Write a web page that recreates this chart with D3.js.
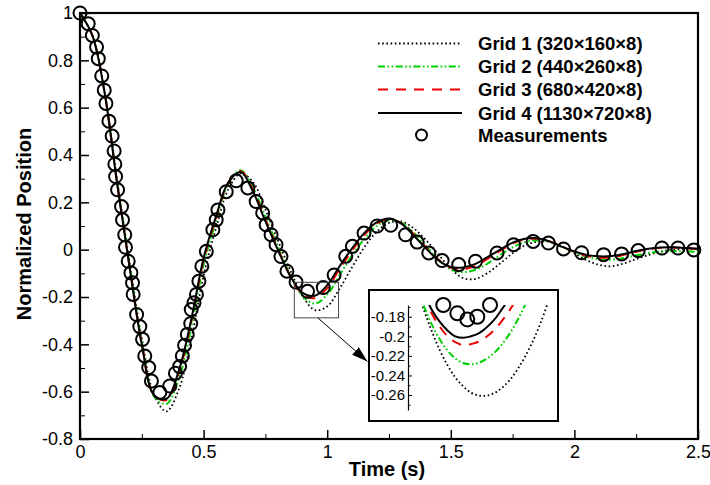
<!DOCTYPE html>
<html>
<head>
<meta charset="utf-8">
<script src="https://cdn.jsdelivr.net/npm/d3@7"></script>
<style>
  html, body { margin: 0; padding: 0; background: #fff; }
  svg text { font-family: "Liberation Sans", Arial, sans-serif; fill: #000; }
</style>
</head>
<body>
<div id="chart"></div>
<script>
// sample times for the simulated curves (s)
const simTime = [0.00, 0.05, 0.10, 0.15, 0.20, 0.25, 0.30, 0.35, 0.40, 0.45,
  0.50, 0.55, 0.60, 0.65, 0.70, 0.75, 0.80, 0.85, 0.90, 0.95,
  1.00, 1.05, 1.10, 1.15, 1.20, 1.25, 1.30, 1.35, 1.40, 1.45,
  1.50, 1.55, 1.60, 1.65, 1.70, 1.75, 1.80, 1.85, 1.90, 1.95,
  2.00, 2.05, 2.10, 2.15, 2.20, 2.25, 2.30, 2.35, 2.40, 2.45, 2.50];

const grid1 = [1.000, 0.905, 0.665, 0.295, -0.050, -0.375, -0.615, -0.683, -0.590, -0.380,
  -0.110, 0.090, 0.255, 0.322, 0.285, 0.170, 0.040, -0.085, -0.195, -0.255,
  -0.240, -0.165, -0.075, 0.010, 0.075, 0.113, 0.119, 0.090, 0.040, -0.020,
  -0.080, -0.120, -0.123, -0.098, -0.058, -0.015, 0.018, 0.034, 0.033, 0.015,
  -0.015, -0.045, -0.064, -0.070, -0.058, -0.040, -0.022, -0.008, 0.000, 0.002, 0.002];

const grid2 = [1.000, 0.905, 0.662, 0.288, -0.060, -0.390, -0.620, -0.652, -0.545, -0.330,
  -0.065, 0.120, 0.278, 0.336, 0.262, 0.140, 0.015, -0.105, -0.195, -0.228,
  -0.190, -0.108, -0.025, 0.045, 0.100, 0.124, 0.114, 0.072, 0.015, -0.042,
  -0.083, -0.095, -0.085, -0.058, -0.022, 0.010, 0.032, 0.040, 0.033, 0.012,
  -0.012, -0.030, -0.041, -0.042, -0.035, -0.024, -0.014, -0.008, -0.006, -0.007, -0.009];

const grid3 = [1.000, 0.905, 0.660, 0.282, -0.068, -0.398, -0.615, -0.635, -0.520, -0.305,
  -0.045, 0.133, 0.283, 0.331, 0.252, 0.128, 0.005, -0.110, -0.188, -0.205,
  -0.163, -0.082, -0.005, 0.062, 0.110, 0.130, 0.112, 0.066, 0.010, -0.042,
  -0.077, -0.083, -0.068, -0.038, -0.005, 0.026, 0.043, 0.046, 0.035, 0.013,
  -0.009, -0.026, -0.034, -0.032, -0.022, -0.009, 0.002, 0.008, 0.009, 0.006, 0.003];

const grid4 = [1.000, 0.905, 0.660, 0.280, -0.070, -0.400, -0.615, -0.630, -0.510, -0.295,
  -0.035, 0.140, 0.285, 0.328, 0.245, 0.120, 0.000, -0.110, -0.182, -0.195,
  -0.150, -0.070, 0.005, 0.070, 0.115, 0.132, 0.110, 0.060, 0.005, -0.045,
  -0.073, -0.075, -0.060, -0.030, 0.000, 0.030, 0.046, 0.048, 0.035, 0.012,
  -0.008, -0.022, -0.028, -0.027, -0.018, -0.006, 0.004, 0.009, 0.010, 0.007, 0.004];

// measured positions
const measTime = [0.000, 0.033, 0.050, 0.067, 0.074, 0.088, 0.098, 0.105, 0.117, 0.130,
  0.138, 0.141, 0.144, 0.152, 0.168, 0.172, 0.181, 0.184, 0.195, 0.206,
  0.2125, 0.215, 0.229, 0.242, 0.253, 0.262, 0.278, 0.289, 0.323, 0.363,
  0.386, 0.403, 0.414, 0.423, 0.434, 0.448, 0.450, 0.461, 0.471, 0.481,
  0.493, 0.511, 0.5375, 0.551, 0.558, 0.5915, 0.632, 0.679, 0.7125, 0.739,
  0.753, 0.773, 0.793, 0.813, 0.837, 0.874, 0.9205, 0.984, 1.028, 1.075,
  1.102, 1.149, 1.202, 1.257, 1.317, 1.364, 1.411, 1.465, 1.532, 1.600,
  1.687, 1.754, 1.833, 1.895, 1.956, 2.029, 2.118, 2.191, 2.258, 2.354,
  2.419, 2.483];
const measValue = [1.000, 0.955, 0.905, 0.856, 0.807, 0.734, 0.674, 0.618, 0.543, 0.480,
  0.417, 0.361, 0.309, 0.253, 0.182, 0.126, 0.063, 0.010, -0.049, -0.098,
  -0.140, -0.189, -0.274, -0.325, -0.379, -0.449, -0.498, -0.555, -0.603, -0.576,
  -0.522, -0.494, -0.449, -0.404, -0.358, -0.312, -0.253, -0.224, -0.189, -0.133,
  -0.070, -0.007, 0.084, 0.126, 0.168, 0.245, 0.291, 0.261, 0.203, 0.155,
  0.105, 0.063, 0.021, -0.029, -0.091, -0.137, -0.176, -0.160, -0.107, -0.028,
  0.014, 0.070, 0.100, 0.103, 0.063, 0.032, -0.014, -0.046, -0.063, -0.049,
  -0.014, 0.021, 0.035, 0.028, 0.003, -0.013, -0.021, -0.018, -0.004, 0.007,
  0.007, -0.001];

// zoomed inset around the second trough
const insetTime = [0.87, 0.88, 0.89, 0.90, 0.91, 0.92, 0.93, 0.94, 0.95,
  0.96, 0.97, 0.98, 0.99, 1.00, 1.01, 1.02, 1.03, 1.04];
const insetGrid1 = [-0.149, -0.1735, -0.195, -0.214, -0.2295, -0.242, -0.251, -0.2575, -0.2605,
  -0.2607, -0.258, -0.2525, -0.2445, -0.2335, -0.220, -0.204, -0.185, -0.163];
const insetGrid2 = [-0.152, -0.170, -0.188, -0.203, -0.2145, -0.2225, -0.2273, -0.2286, -0.227,
  -0.223, -0.217, -0.208, -0.197, -0.183, -0.167, -0.149, null, null];
const insetGrid3 = [-0.141, -0.160, -0.177, -0.190, -0.200, -0.206, -0.209, -0.208, -0.2055,
  -0.2005, -0.1935, -0.184, -0.173, -0.159, -0.143, null, null, null];
const insetGrid4 = [-0.140, -0.157, -0.173, -0.185, -0.194, -0.200, -0.2015, -0.200, -0.197,
  -0.191, -0.183, -0.172, -0.160, -0.145, null, null, null, null];
const insetMeasTime = [0.9046, 0.9226, 0.9354, 0.9482, 0.9645];
const insetMeasValue = [-0.168, -0.1765, -0.1827, -0.180, -0.168];

const xTicks = [0, 0.5, 1, 1.5, 2, 2.5];
const yTicks = [-0.8, -0.6, -0.4, -0.2, 0, 0.2, 0.4, 0.6, 0.8, 1];
const insetTicks = [-0.26, -0.24, -0.22, -0.2, -0.18];

const seriesNames = ["Grid 1 (320\u00d7160\u00d78)", "Grid 2 (440\u00d7260\u00d78)",
  "Grid 3 (680\u00d7420\u00d78)", "Grid 4 (1130\u00d7720\u00d78)"];

// ---- styles ----
const styles = [
  {color: "#000", width: 1.8, dash: "1.6,2.6"},
  {color: "#00d000", width: 2, dash: "7,2.5,1.6,2.5,1.6,2.5"},
  {color: "#ee0000", width: 2, dash: "10,8"},
  {color: "#000", width: 2, dash: null}
];

const width = 710, height = 485;
const plot = {left: 80, right: 698, top: 13, bottom: 439};

const svg = d3.select("#chart").append("svg")
  .attr("width", width)
  .attr("height", height);

const x = d3.scaleLinear().domain([0, 2.5]).range([plot.left, plot.right]);
const y = d3.scaleLinear().domain([-0.8, 1]).range([plot.bottom, plot.top]);

svg.append("clipPath").attr("id", "plotClip")
  .append("rect")
  .attr("x", plot.left).attr("y", plot.top)
  .attr("width", plot.right - plot.left).attr("height", plot.bottom - plot.top);

// minor ticks
svg.append("g")
  .attr("transform", "translate(" + plot.left + ",0)")
  .call(d3.axisLeft(y).tickValues(d3.range(-7, 10, 2).map(d => d / 10))
    .tickSizeInner(-5).tickSizeOuter(0).tickFormat(""))
  .call(g => g.select(".domain").remove());
svg.append("g")
  .attr("transform", "translate(0," + plot.bottom + ")")
  .call(d3.axisBottom(x).tickValues([0.25, 0.75, 1.25, 1.75, 2.25])
    .tickSizeInner(-5).tickSizeOuter(0).tickFormat(""))
  .call(g => g.select(".domain").remove());

// major ticks + labels
const yAxis = svg.append("g")
  .attr("transform", "translate(" + plot.left + ",0)")
  .call(d3.axisLeft(y).tickValues(yTicks).tickSizeInner(-9).tickSizeOuter(0)
    .tickPadding(7).tickFormat(d => String(+d.toFixed(1))));
const xAxis = svg.append("g")
  .attr("transform", "translate(0," + plot.bottom + ")")
  .call(d3.axisBottom(x).tickValues(xTicks).tickSizeInner(-9).tickSizeOuter(0)
    .tickPadding(6).tickFormat(d => String(d)));
[yAxis, xAxis].forEach(function(g) {
  g.select(".domain").remove();
  g.selectAll("line").attr("stroke", "#000").attr("stroke-width", 1.5);
  g.selectAll("text").attr("font-size", 18).attr("font-family", null);
});

// frame
svg.append("rect")
  .attr("x", plot.left).attr("y", plot.top)
  .attr("width", plot.right - plot.left).attr("height", plot.bottom - plot.top)
  .attr("fill", "none").attr("stroke", "#000").attr("stroke-width", 2.2);

// curves
const simSeries = [grid1, grid2, grid3, grid4];
const line = d3.line()
  .defined(d => d[1] != null)
  .x(d => x(d[0])).y(d => y(d[1]))
  .curve(d3.curveCatmullRom.alpha(0.5));

const curveGroup = svg.append("g").attr("clip-path", "url(#plotClip)");
simSeries.forEach(function(vals, i) {
  curveGroup.append("path")
    .datum(simTime.map((t, k) => [t, vals[k]]))
    .attr("d", line)
    .attr("fill", "none")
    .attr("stroke", styles[i].color)
    .attr("stroke-width", styles[i].width)
    .attr("stroke-dasharray", styles[i].dash);
});

svg.append("g").selectAll("circle")
  .data(measTime.map((t, k) => [t, measValue[k]]))
  .enter().append("circle")
  .attr("cx", d => x(d[0])).attr("cy", d => y(d[1]))
  .attr("r", 6.5)
  .attr("fill", "none").attr("stroke", "#000").attr("stroke-width", 2);

// axis titles
svg.append("text")
  .attr("x", (plot.left + plot.right) / 2 - 2).attr("y", 476)
  .attr("text-anchor", "middle").attr("font-size", 20).attr("font-weight", "bold")
  .text("Time (s)");
svg.append("text")
  .attr("transform", "translate(31," + 224 + ") rotate(-90)")
  .attr("text-anchor", "middle").attr("font-size", 20).attr("font-weight", "bold")
  .text("Normalized Position");

// legend
const legendRows = [43.5, 66.5, 89.5, 113, 135];
const legend = svg.append("g");
styles.forEach(function(s, i) {
  legend.append("line")
    .attr("x1", 378).attr("x2", 462)
    .attr("y1", legendRows[i]).attr("y2", legendRows[i])
    .attr("stroke", s.color).attr("stroke-width", s.width)
    .attr("stroke-dasharray", s.dash);
  legend.append("text")
    .attr("x", 478).attr("y", legendRows[i]).attr("dy", "0.36em")
    .attr("font-size", 18.5).attr("font-weight", "bold")
    .text(seriesNames[i]);
});
legend.append("circle")
  .attr("cx", 421.5).attr("cy", legendRows[4]).attr("r", 5.5)
  .attr("fill", "none").attr("stroke", "#000").attr("stroke-width", 2);
legend.append("text")
  .attr("x", 478).attr("y", legendRows[4]).attr("dy", "0.36em")
  .attr("font-size", 18.5).attr("font-weight", "bold")
  .text("Measurements");

// zoom window in main plot
const zoomWin = {t0: 0.867, t1: 1.046, v0: -0.288, v1: -0.138};
svg.append("rect")
  .attr("x", x(zoomWin.t0)).attr("y", y(zoomWin.v1))
  .attr("width", x(zoomWin.t1) - x(zoomWin.t0))
  .attr("height", y(zoomWin.v0) - y(zoomWin.v1))
  .attr("fill", "none").attr("stroke", "#444").attr("stroke-width", 1);

// inset
const box = {x: 369, y: 290, w: 189, h: 131};
svg.append("defs").append("marker")
  .attr("id", "arrowHead")
  .attr("viewBox", "0 0 16 10")
  .attr("refX", 16).attr("refY", 5)
  .attr("markerWidth", 16).attr("markerHeight", 10)
  .attr("markerUnits", "userSpaceOnUse")
  .attr("orient", "auto")
  .append("path").attr("d", "M0,0 L16,5 L0,10 Z").attr("fill", "#000");

svg.append("line")
  .attr("x1", x(0.962)).attr("y1", y(zoomWin.v0))
  .attr("x2", box.x - 1.5).attr("y2", 361.5)
  .attr("stroke", "#000").attr("stroke-width", 1)
  .attr("marker-end", "url(#arrowHead)");

svg.append("rect")
  .attr("x", box.x).attr("y", box.y).attr("width", box.w).attr("height", box.h)
  .attr("fill", "#fff").attr("stroke", "#000").attr("stroke-width", 2);

const ix = d3.scaleLinear().domain([0.87, 1.05]).range([416.3, 556.7]);
const iy = d3.scaleLinear().domain([-0.2753, -0.168]).range([410, 305]);

svg.append("clipPath").attr("id", "insetClip")
  .append("rect")
  .attr("x", 409).attr("y", 305).attr("width", box.x + box.w - 410).attr("height", 110);

const iAxis = svg.append("g")
  .attr("transform", "translate(408,0)")
  .call(d3.axisLeft(iy).tickValues(insetTicks).tickSizeInner(-4).tickSizeOuter(0)
    .tickPadding(3).tickFormat(d => String(+d.toFixed(2))));
iAxis.select(".domain").attr("stroke", "#000").attr("stroke-width", 1.2);
iAxis.selectAll("text").attr("font-size", 15).attr("font-family", null);
svg.append("g")
  .attr("transform", "translate(408,0)")
  .call(d3.axisLeft(iy).tickValues([-0.27, -0.25, -0.23, -0.21, -0.19, -0.17])
    .tickSizeInner(-2.5).tickSizeOuter(0).tickFormat(""))
  .call(g => g.select(".domain").remove());

const insetSeries = [insetGrid1, insetGrid2, insetGrid3, insetGrid4];
const iline = d3.line()
  .defined(d => d[1] != null)
  .x(d => ix(d[0])).y(d => iy(d[1]))
  .curve(d3.curveCatmullRom.alpha(0.5));
const insetGroup = svg.append("g").attr("clip-path", "url(#insetClip)");
insetSeries.forEach(function(vals, i) {
  insetGroup.append("path")
    .datum(insetTime.map((t, k) => [t, vals[k]]))
    .attr("d", iline)
    .attr("fill", "none")
    .attr("stroke", styles[i].color)
    .attr("stroke-width", styles[i].width)
    .attr("stroke-dasharray", styles[i].dash);
});
svg.append("g").selectAll("circle")
  .data(insetMeasTime.map((t, k) => [t, insetMeasValue[k]]))
  .enter().append("circle")
  .attr("cx", d => ix(d[0])).attr("cy", d => iy(d[1]))
  .attr("r", 7)
  .attr("fill", "none").attr("stroke", "#000").attr("stroke-width", 2);
</script>
</body>
</html>
